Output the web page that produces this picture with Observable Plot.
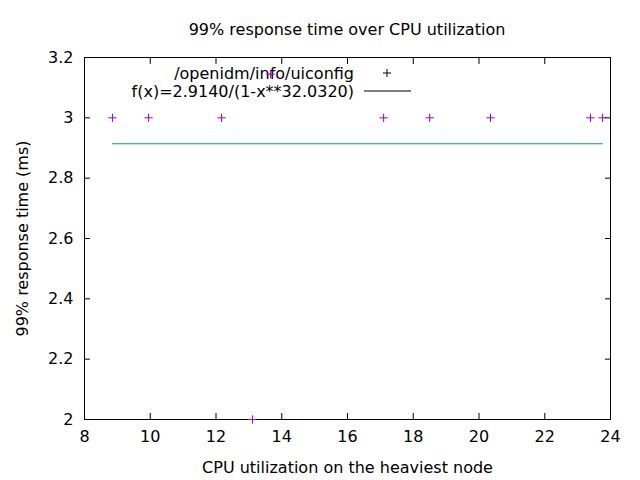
<!DOCTYPE html>
<html>
<head>
<meta charset="utf-8">
<script src="https://cdn.jsdelivr.net/npm/d3@7"></script>
<script src="https://cdn.jsdelivr.net/npm/@observablehq/plot@0.6"></script>
<style>
  html, body { margin: 0; padding: 0; background: #fff; }
  svg { font-family: "DejaVu Sans", sans-serif; }
</style>
</head>
<body>
<div id="chart"></div>
<script>
// Data
const cpu = [8.85, 9.95, 12.17, 13.11, 13.66, 17.1, 18.5, 20.35, 23.39, 23.76];
const resp = [3, 3, 3, 2, 3.145, 3, 3, 3, 3, 3];
const fitA = 2.914;
const fitRange = [8.85, 23.76];
const xTicks = [8, 10, 12, 14, 16, 18, 20, 22, 24];
const yTicks = [2, 2.2, 2.4, 2.6, 2.8, 3, 3.2];
const seriesNames = ["/openidm/info/uiconfig", "f(x)=2.9140/(1-x**32.0320)"];
const titleText = "99% response time over CPU utilization";
const xLabel = "CPU utilization on the heaviest node";
const yLabel = "99% response time (ms)";

const points = cpu.map((x, i) => ({x, y: resp[i]}));
const fit = fitRange.map(x => ({x, y: fitA}));

const purple = "#9400d3";
const green = "#009e73";
const FS = 16;

function legendMark(index, scales, values, dims) {
  const g = d3.create("svg:g");
  const x0 = dims.marginLeft, y0 = dims.marginTop;
  const rows = [{dy: 16, kind: "point"}, {dy: 34, kind: "line"}];
  rows.forEach((r, i) => {
    g.append("text")
      .attr("x", x0 + 270).attr("y", y0 + r.dy)
      .attr("text-anchor", "end").attr("dominant-baseline", "central")
      .attr("font-size", FS).attr("fill", "#000")
      .text(seriesNames[i]);
    if (r.kind === "point") {
      g.append("path")
        .attr("d", `M${x0 + 303 - 4},${y0 + r.dy}h8M${x0 + 303},${y0 + r.dy - 4}v8`)
        .attr("stroke", "#000").attr("stroke-width", 1);
    } else {
      g.append("line")
        .attr("x1", x0 + 280).attr("x2", x0 + 327)
        .attr("y1", y0 + r.dy).attr("y2", y0 + r.dy)
        .attr("stroke", "#000").attr("stroke-width", 1);
    }
  });
  g.append("text")
    .attr("x", (dims.marginLeft + dims.width - dims.marginRight) / 2)
    .attr("y", 29)
    .attr("text-anchor", "middle").attr("dominant-baseline", "central")
    .attr("font-size", FS).attr("fill", "#000")
    .text(titleText);
  return g.node();
}

const chart = Plot.plot({
  width: 640,
  height: 480,
  marginLeft: 84,
  marginRight: 30,
  marginTop: 57,
  marginBottom: 61,
  style: {fontFamily: "DejaVu Sans, sans-serif", fontSize: FS + "px", color: "#000", background: "#fff"},
  x: {domain: [8, 24]},
  y: {domain: [2, 3.2]},
  marks: [
    Plot.line(fit, {x: "x", y: "y", stroke: green, strokeWidth: 1}),
    Plot.frame({stroke: "#000", strokeWidth: 1}),
    Plot.axisX(xTicks, {anchor: "bottom", tickSize: 0, tickPadding: 11, fontSize: FS,
      label: xLabel, labelAnchor: "center", labelArrow: "none", labelOffset: 53}),
    Plot.axisX(xTicks, {anchor: "bottom", tickSize: -6, text: null, label: null}),
    Plot.axisX(xTicks, {anchor: "top", tickSize: -6, text: null, label: null}),
    Plot.axisY(yTicks, {anchor: "left", tickSize: 0, tickPadding: 11, fontSize: FS,
      tickFormat: d => String(d),
      label: yLabel, labelAnchor: "center", labelArrow: "none", labelOffset: 68}),
    Plot.axisY(yTicks, {anchor: "left", tickSize: -6, text: null, label: null}),
    Plot.axisY(yTicks, {anchor: "right", tickSize: -6, text: null, label: null}),
    legendMark,
    Plot.dot(points, {x: "x", y: "y", symbol: "plus", r: 2.8, stroke: purple, strokeWidth: 1})
  ]
});
document.getElementById("chart").appendChild(chart);
</script>
</body>
</html>
